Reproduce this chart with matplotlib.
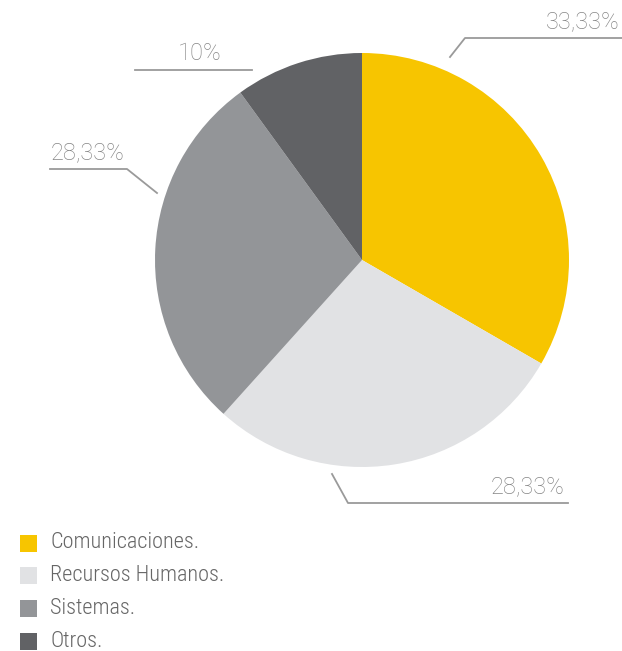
import matplotlib
matplotlib.use("Agg")
import matplotlib.pyplot as plt
from matplotlib.patches import Rectangle

categories = ["Comunicaciones.", "Recursos Humanos.", "Sistemas.", "Otros."]
values = [33.33, 28.33, 28.33, 10.0]
value_labels = ["33,33%", "28,33%", "28,33%", "10%"]
colors = ["#F7C500", "#E1E2E4", "#939598", "#616265"]

W, H = 622, 651
fig = plt.figure(figsize=(W / 100, H / 100), dpi=100)
ax = fig.add_axes([0, 0, 1, 1])

def Y(y):
    return H - y

cx, cy, r = 362, 260, 207
ax.pie(values, colors=colors, startangle=90, counterclock=False,
       center=(cx, Y(cy)), radius=r, frame=True,
       wedgeprops=dict(linewidth=0))
ax.set_xlim(0, W)
ax.set_ylim(0, H)
ax.set_aspect("auto")
ax.axis("off")

FONT = ["Roboto Condensed", "Liberation Sans Narrow", "Roboto"]
line_kw = dict(color="#9a9a9a", linewidth=1.3)
txt_kw = dict(color="#858585", fontsize=17, family="Roboto", fontweight="light")

# leader lines and value labels
ax.plot([450, 465, 622], [Y(57), Y(38), Y(38)], **line_kw)
ax.text(620, Y(33), value_labels[0], ha="right", va="bottom", **txt_kw)

ax.plot([332, 348, 568], [Y(474), Y(503), Y(503)], **line_kw)
ax.text(564, Y(498), value_labels[1], ha="right", va="bottom", **txt_kw)

ax.plot([50, 127, 157], [Y(169), Y(169), Y(193)], **line_kw)
ax.text(51, Y(164), value_labels[2], ha="left", va="bottom", **txt_kw)

ax.plot([135, 252], [Y(70), Y(70)], **line_kw)
ax.text(200, Y(65), value_labels[3], ha="center", va="bottom", **txt_kw)

# legend
for i, (lab, col) in enumerate(zip(categories, colors)):
    yc = 543 + i * 32.7
    ax.add_patch(Rectangle((20, Y(yc + 8.5)), 17, 17, color=col, lw=0))
    ax.text(50, Y(yc), lab, ha="left", va="center", color="#666666",
            fontsize=16, family=FONT, fontweight="light")

fig.savefig("out.png", dpi=100)
